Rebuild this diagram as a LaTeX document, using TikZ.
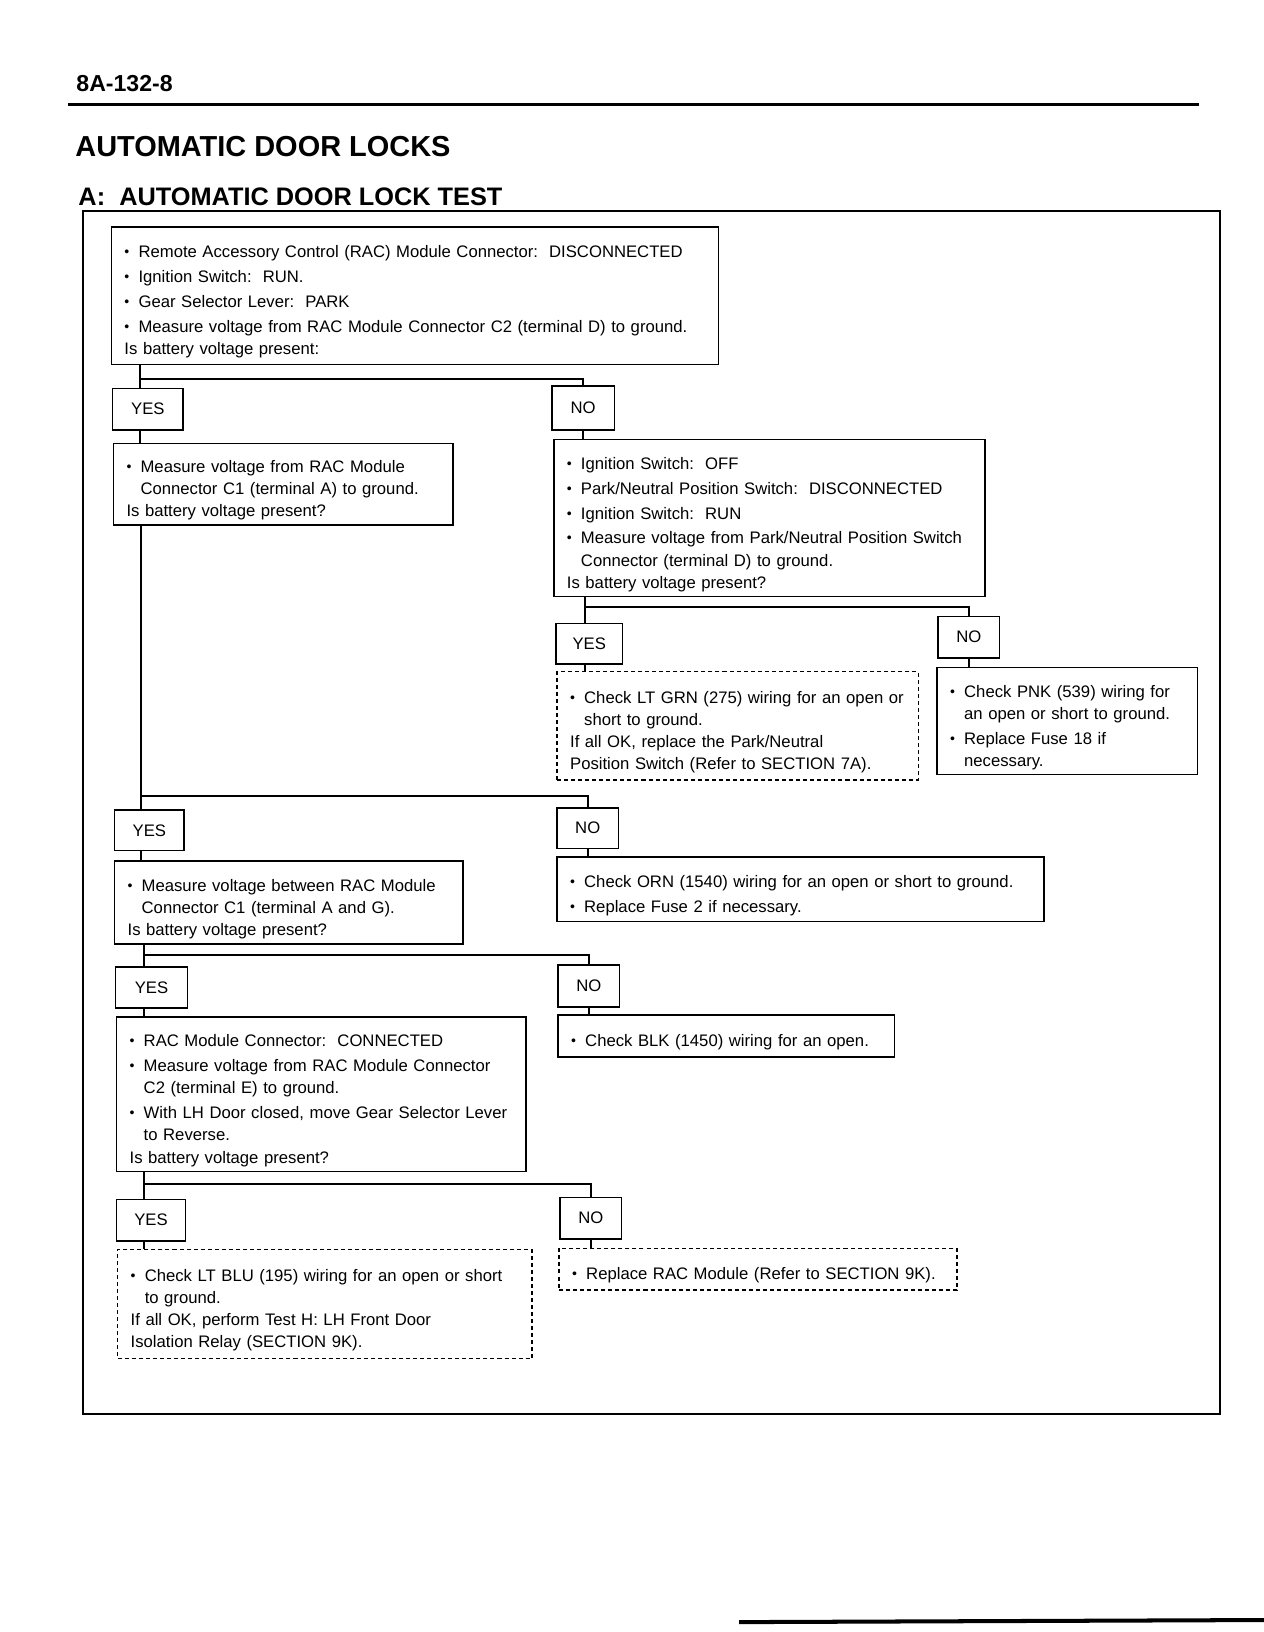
\documentclass[tikz,border=0pt]{standalone}
\usepackage{fontspec}
\setmainfont{Liberation Sans}
\usetikzlibrary{positioning}

\newcommand{\itm}[1]{\par\vspace{1.4pt}\hangindent=7pt\hangafter=1\noindent\makebox[7pt][l]{\raisebox{0.5pt}{\scriptsize\textbullet}}#1\par}

\tikzset{
    qbox/.style={draw, rectangle, line width=0.8pt, inner xsep=6.5pt, inner ysep=2pt, align=left, font=\fontsize{8.3}{11}\selectfont},
    dbox/.style={qbox, line width=0.7pt, dash pattern=on 2pt off 1.5pt},
    ans/.style={draw, rectangle, line width=0.8pt, inner sep=0pt, font=\fontsize{8.3}{10}\selectfont},
    conn/.style={line width=1pt}
}

\begin{document}
\begin{tikzpicture}[x=0.518pt,y=-0.518pt]
\useasboundingbox (0,0) rectangle (1214,1567.5);
% page header
\node[anchor=west,inner sep=0pt,font=\fontsize{11.5}{13}\selectfont\bfseries] (page) at (73,80) {8A-132-8};
\draw[line width=1.4pt] (65,100) -- (1152,100);
\node[anchor=west,inner sep=0pt,font=\fontsize{14.4}{16}\selectfont\bfseries] (title) at (72,141) {AUTOMATIC DOOR LOCKS};
\node[anchor=west,inner sep=0pt,font=\fontsize{12.6}{14}\selectfont\bfseries] (subtitle) at (75,189) {A:\ \ AUTOMATIC DOOR LOCK TEST};
\draw[line width=0.9pt] (80,203) rectangle (1172,1358);

% first check
\node[qbox,text width=289pt,minimum height=68.4pt] (q1) at (398.5,284) {%
\itm{Remote Accessory Control (RAC) Module Connector:\ \ DISCONNECTED}
\itm{Ignition Switch:\ \ RUN.}
\itm{Gear Selector Lever:\ \ PARK}
\itm{Measure voltage from RAC Module Connector C2 (terminal D) to ground.}
Is battery voltage present:};
\node[ans,minimum width=35.2pt,minimum height=20.7pt] (yes1) at (142,393) {YES};
\node[ans,minimum width=31.1pt,minimum height=21.8pt] (no1) at (560,392) {NO};

\node[qbox,text width=155.9pt,minimum height=40.4pt] (q2) at (272,465) {%
\itm{Measure voltage from RAC Module\newline Connector C1 (terminal A) to ground.}
Is battery voltage present?};
\node[qbox,text width=201.5pt,minimum height=78.2pt] (q3) at (739,497.5) {%
\itm{Ignition Switch:\ \ OFF}
\itm{Park/Neutral Position Switch:\ \ DISCONNECTED}
\itm{Ignition Switch:\ \ RUN}
\itm{Measure voltage from Park/Neutral Position Switch\newline Connector (terminal D) to ground.}
Is battery voltage present?};

% park/neutral branch
\node[ans,minimum width=33.2pt,minimum height=20.2pt] (yes2) at (566,618.5) {YES};
\node[ans,minimum width=30.6pt,minimum height=20.7pt] (no2) at (930.5,612) {NO};
\node[dbox,text width=166.7pt,minimum height=53.9pt] (r1) at (708.5,697) {%
\itm{Check LT GRN (275) wiring for an open or\newline short to ground.}
If all OK, replace the Park/Neutral\newline Position Switch (Refer to SECTION 7A).};
\node[qbox,text width=116.5pt,minimum height=53.4pt] (r2) at (1025,692.5) {%
\itm{Check PNK (539) wiring for\newline an open or short to ground.}
\itm{Replace Fuse 18 if\newline necessary.}};

% C1 terminal A branch
\node[ans,minimum width=34.7pt,minimum height=20.2pt] (yes3) at (143.5,797.5) {YES};
\node[ans,minimum width=30.6pt,minimum height=20.2pt] (no3) at (564.5,795.5) {NO};
\node[qbox,text width=160.5pt,minimum height=41.4pt] (q4) at (277.5,867) {%
\itm{Measure voltage between RAC Module\newline Connector C1 (terminal A and G).}
Is battery voltage present?};
\node[qbox,text width=229.4pt,minimum height=32.1pt] (r3) at (769,854) {%
\itm{Check ORN (1540) wiring for an open or short to ground.}
\itm{Replace Fuse 2 if necessary.}};

\node[ans,minimum width=35.7pt,minimum height=20.2pt] (yes4) at (145.5,948.5) {YES};
\node[ans,minimum width=30.6pt,minimum height=20.7pt] (no4) at (565.5,947) {NO};
\node[qbox,text width=190.6pt,minimum height=76.7pt] (q5) at (308.5,1051) {%
\itm{RAC Module Connector:\ \ CONNECTED}
\itm{Measure voltage from RAC Module Connector\newline C2 (terminal E) to ground.}
\itm{With LH Door closed, move Gear Selector Lever\newline to Reverse.}
Is battery voltage present?};
\node[qbox,text width=154.3pt,minimum height=20.7pt] (r4) at (697.5,995) {%
\itm{Check BLK (1450) wiring for an open.}};

% last answers
\node[ans,minimum width=34.2pt,minimum height=20.7pt] (yes5) at (145,1172) {YES};
\node[ans,minimum width=30.6pt,minimum height=20.7pt] (no5) at (567.5,1170) {NO};
\node[dbox,text width=193.2pt,minimum height=54.4pt] (r5) at (312,1252.5) {%
\itm{Check LT BLU (195) wiring for an open or short\newline to ground.}
If all OK, perform Test H:\ LH Front Door\newline Isolation Relay (SECTION 9K).};
\node[dbox,text width=184.9pt,minimum height=20.7pt] (r6) at (728,1219) {%
\itm{Replace RAC Module (Refer to SECTION 9K).}};

% connectors
\coordinate (s1) at (134,364);
\coordinate (s2) at (562,583);
\coordinate (s3) at (135,765);
\coordinate (s4) at (138,917);
\coordinate (s5) at (138,1137);

\draw[conn] (s1 |- q1.south) -- (s1 |- yes1.north);
\draw[conn] (s1) -| (no1.north);
\draw[conn] (s1 |- yes1.south) -- (s1 |- q2.north);
\draw[conn] (no1.south) -- (no1.south |- q3.north);

\draw[conn] (s2 |- q3.south) -- (s2 |- yes2.north);
\draw[conn] (s2) -| (no2.north);
\draw[conn] (s2 |- yes2.south) -- (s2 |- r1.north);
\draw[conn] (no2.south) -- (no2.south |- r2.north);

\draw[conn] (s3 |- q2.south) -- (s3 |- yes3.north);
\draw[conn] (s3) -| (no3.north);
\draw[conn] (s3 |- yes3.south) -- (s3 |- q4.north);
\draw[conn] (no3.south) -- (no3.south |- r3.north);

\draw[conn] (s4 |- q4.south) -- (s4 |- yes4.north);
\draw[conn] (s4) -| (no4.north);
\draw[conn] (s4 |- yes4.south) -- (s4 |- q5.north);
\draw[conn] (no4.south) -- (no4.south |- r4.north);

\draw[conn] (s5 |- q5.south) -- (s5 |- yes5.north);
\draw[conn] (s5) -| (no5.north);
\draw[conn] (s5 |- yes5.south) -- (s5 |- r5.north);
\draw[conn] (no5.south) -- (no5.south |- r6.north);

% page foot
\draw[line width=2pt] (710,1558) -- (1214,1556);
\end{tikzpicture}
\end{document}
